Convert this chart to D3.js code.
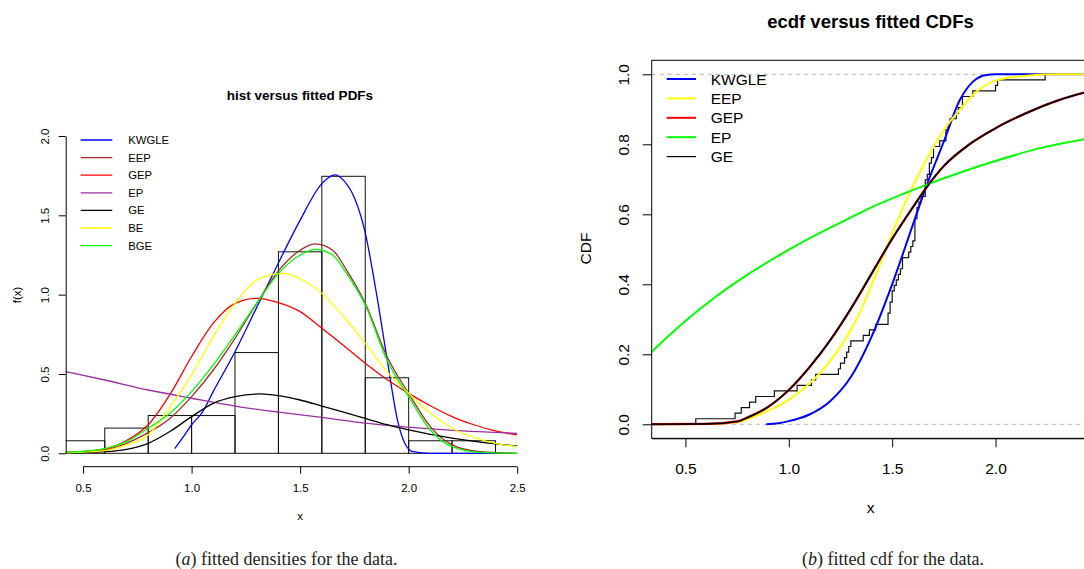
<!DOCTYPE html>
<html>
<head>
<meta charset="utf-8">
<script src="https://cdn.jsdelivr.net/npm/d3@7"></script>
<style>
body { margin: 0; background: #fff; }
svg text { font-family: "Liberation Sans", Arial, Helvetica, sans-serif; fill: #000; }
.caption { font-family: "Liberation Serif", "Times New Roman", serif; }
</style>
</head>
<body>
<svg id="chart" width="1084" height="569"></svg>
<script>

// ---------- data ----------

// histogram: bin edges and densities
var binEdges = [0.4, 0.6, 0.8, 1.0, 1.2, 1.4, 1.6, 1.8, 2.0, 2.2, 2.4];
var histDensity = [0.079, 0.159, 0.238, 0.238, 0.635, 1.270, 1.746, 0.476, 0.079, 0.079];

// fitted densities, [x, f(x)]
var pdfKWGLE = [[0.923,0.03],[0.96,0.1],[1.0,0.18],[1.05,0.26],[1.1,0.39],[1.2,0.64],[1.3,0.92],[1.4,1.2],[1.5,1.47],[1.6,1.7],[1.66,1.755],[1.7,1.72],[1.75,1.61],[1.8,1.39],[1.85,1.02],[1.9,0.6],[1.95,0.2],[1.98,0.07],[2.02,0.01],[2.1,0],[2.5,0]];
var pdfEEP = [[0.42,0.005],[0.6,0.02],[0.7,0.063],[0.8,0.13],[0.9,0.22],[1.0,0.357],[1.1,0.525],[1.2,0.725],[1.3,0.945],[1.4,1.15],[1.5,1.28],[1.568,1.32],[1.65,1.28],[1.714,1.155],[1.8,0.945],[1.9,0.61],[2.0,0.378],[2.1,0.168],[2.2,0.053],[2.33,0.01],[2.5,0]];
var pdfGEP = [[0.42,0.006],[0.6,0.027],[0.7,0.08],[0.8,0.18],[0.9,0.37],[1.0,0.61],[1.1,0.82],[1.2,0.945],[1.3,0.977],[1.4,0.95],[1.5,0.893],[1.6,0.788],[1.7,0.68],[1.8,0.567],[1.9,0.465],[2.0,0.378],[2.1,0.3],[2.2,0.231],[2.3,0.18],[2.4,0.141],[2.5,0.116]];
var pdfEP = [[0.42,0.515],[0.6,0.462],[0.8,0.399],[1.0,0.347],[1.2,0.298],[1.4,0.26],[1.6,0.227],[1.8,0.19],[2.0,0.165],[2.2,0.145],[2.4,0.132],[2.5,0.125]];
var pdfGE = [[0.42,0.002],[0.6,0.01],[0.7,0.025],[0.8,0.063],[0.9,0.137],[1.0,0.231],[1.1,0.315],[1.2,0.357],[1.315,0.374],[1.4,0.363],[1.5,0.336],[1.6,0.298],[1.7,0.26],[1.8,0.22],[1.9,0.18],[2.0,0.147],[2.2,0.095],[2.4,0.059],[2.5,0.046]];
var pdfBE = [[0.42,0.003],[0.6,0.017],[0.7,0.053],[0.8,0.115],[0.9,0.29],[1.0,0.494],[1.1,0.735],[1.2,0.945],[1.3,1.092],[1.42,1.134],[1.5,1.1],[1.6,1.008],[1.714,0.84],[1.8,0.693],[1.9,0.515],[2.0,0.378],[2.1,0.252],[2.2,0.158],[2.4,0.063],[2.5,0.042]];
var pdfBGE = [[0.42,0.006],[0.6,0.03],[0.7,0.074],[0.8,0.158],[0.9,0.252],[1.0,0.389],[1.1,0.557],[1.2,0.746],[1.3,0.945],[1.4,1.134],[1.5,1.25],[1.57,1.286],[1.65,1.25],[1.714,1.134],[1.8,0.935],[1.9,0.588],[2.0,0.357],[2.1,0.147],[2.2,0.042],[2.33,0.006],[2.5,0]];

// observed sample (ecdf jumps)
var sample = [0.55,0.74,0.77,0.81,0.84,0.93,1.04,1.11,1.13,1.24,1.25,1.27,1.28,1.29,1.30,1.36,1.39,
  1.42,1.48,1.48,1.49,1.49,1.50,1.50,1.51,1.52,1.53,1.54,1.55,1.55,1.58,1.59,1.60,
  1.61,1.61,1.61,1.61,1.62,1.62,1.63,1.64,1.66,1.66,1.66,1.67,1.68,1.68,1.69,1.70,1.70,1.73,1.76,1.76,1.77,1.78,
  1.81,1.82,1.84,1.84,1.89,2.00,2.01,2.24];

// fitted CDFs, [x, F(x)]
var cdfKWGLE = [[0.891,0],[0.95,0.003],[1.0,0.009],[1.1,0.028],[1.2,0.066],[1.3,0.135],[1.4,0.25],[1.5,0.40],[1.6,0.57],[1.665,0.68],[1.75,0.808],[1.826,0.925],[1.891,0.979],[1.955,0.998],[2.0,1.0],[2.6,1.0]];
var cdfEEP = [[0.3,0],[0.6,0.001],[0.75,0.006],[0.81,0.017],[0.89,0.036],[1.0,0.07],[1.084,0.108],[1.164,0.155],[1.25,0.222],[1.326,0.298],[1.423,0.431],[1.5,0.546],[1.584,0.66],[1.665,0.755],[1.75,0.841],[1.826,0.898],[1.907,0.95],[2.0,0.982],[2.148,0.996],[2.3,1.0],[2.6,1.0]];
var cdfGEP = [[0.3,0],[0.6,0.001],[0.75,0.008],[0.81,0.022],[0.89,0.046],[1.0,0.098],[1.1,0.163],[1.2,0.24],[1.3,0.33],[1.4,0.43],[1.5,0.53],[1.6,0.62],[1.665,0.676],[1.75,0.738],[1.874,0.8],[2.0,0.846],[2.148,0.889],[2.31,0.927],[2.45,0.951]];
var cdfEP = [[0.334,0.206],[0.487,0.289],[0.648,0.365],[0.81,0.431],[0.971,0.489],[1.132,0.541],[1.294,0.589],[1.39,0.617],[1.665,0.684],[1.987,0.75],[2.2,0.787],[2.45,0.817]];
var cdfGE = [[0.3,0],[0.6,0.001],[0.75,0.008],[0.81,0.022],[0.89,0.046],[1.0,0.098],[1.1,0.163],[1.2,0.24],[1.3,0.33],[1.4,0.43],[1.5,0.53],[1.6,0.62],[1.665,0.676],[1.75,0.738],[1.874,0.8],[2.0,0.846],[2.148,0.889],[2.31,0.927],[2.45,0.951]];

var xTicksL = [0.5, 1.0, 1.5, 2.0, 2.5];
var yTicksL = [0, 0.5, 1.0, 1.5, 2.0];
var xTicksR = [0.5, 1.0, 1.5, 2.0];
var yTicksR = [0, 0.2, 0.4, 0.6, 0.8, 1.0];

var legendL = ["KWGLE", "EEP", "GEP", "EP", "GE", "BE", "BGE"];
var legendR = ["KWGLE", "EEP", "GEP", "EP", "GE"];

// ---------- drawing ----------

var svg = d3.select("#chart");
var fmt = d3.format(".1f");

var xL = d3.scaleLinear().domain([0.42, 2.5]).range([65.7, 517.2]),
	yL = d3.scaleLinear().domain([0, 2]).range([453.3, 136]);

var xR = d3.scaleLinear().domain([0.3368, 2.5832]).range([651.7, 1116.1]),
	yR = d3.scaleLinear().domain([-0.04, 1.04]).range([438.3, 60.3]);

var defs = svg.append("defs");
defs.append("clipPath").attr("id", "clipL")
	.append("rect").attr("x", 65.7).attr("y", 100).attr("width", 451.5).attr("height", 354);
defs.append("clipPath").attr("id", "clipR")
	.append("rect").attr("x", 651.7).attr("y", 60.3).attr("width", 464.4).attr("height", 378);

var smooth = d3.curveMonotoneX;

// ----- left panel: hist versus fitted PDFs -----

var left = svg.append("g");

left.append("text")
	.attr("x", 300).attr("y", 99.5)
	.attr("text-anchor", "middle")
	.style("font-size", "13.5px").style("font-weight", "bold")
	.text("hist versus fitted PDFs");

var plotL = left.append("g").attr("clip-path", "url(#clipL)");

plotL.selectAll("rect.bar")
	.data(histDensity)
	.enter()
	.append("rect")
		.attr("class", "bar")
		.attr("x", function(d, i) { return xL(binEdges[i]); })
		.attr("y", function(d) { return yL(d); })
		.attr("width", function(d, i) { return xL(binEdges[i + 1]) - xL(binEdges[i]); })
		.attr("height", function(d) { return yL(0) - yL(d); })
		.attr("fill", "none")
		.attr("stroke", "#111")
		.attr("stroke-width", 1);

var lineL = d3.line()
	.x(function(d) { return xL(d[0]); })
	.y(function(d) { return yL(d[1]); })
	.curve(smooth);

var seriesL = [
	{ name: "KWGLE", data: pdfKWGLE, color: "#0000ff" },
	{ name: "EEP", data: pdfEEP, color: "#a52a2a" },
	{ name: "GEP", data: pdfGEP, color: "#ff0000" },
	{ name: "EP", data: pdfEP, color: "#9b2fa0" },
	{ name: "GE", data: pdfGE, color: "#000000" },
	{ name: "BE", data: pdfBE, color: "#ffff00" },
	{ name: "BGE", data: pdfBGE, color: "#00ff00" }
];

// draw order as in the picture: KWGLE first, BGE last
plotL.selectAll("path.pdf")
	.data(seriesL)
	.enter()
	.append("path")
		.attr("class", "pdf")
		.attr("d", function(d) { return lineL(d.data); })
		.attr("fill", "none")
		.attr("stroke", function(d) { return d.color; })
		.attr("stroke-width", 1.3);

// y axis
var yAxisL = left.append("g")
	.attr("transform", "translate(65.7,0)")
	.call(d3.axisLeft(yL).tickValues(yTicksL).tickFormat(fmt).tickSize(7).tickSizeOuter(0));
yAxisL.selectAll(".tick text")
	.attr("x", 0).attr("dy", null)
	.attr("transform", "translate(-21,0) rotate(-90)")
	.attr("text-anchor", "middle")
	.attr("dominant-baseline", "central")
	.style("font-size", "11.5px");

left.append("text")
	.attr("transform", "translate(17,295) rotate(-90)")
	.attr("text-anchor", "middle")
	.attr("dominant-baseline", "central")
	.style("font-size", "11.5px")
	.text("f(x)");

// x axis, offset below the bars
var xAxisL = left.append("g")
	.attr("transform", "translate(0,466.7)")
	.call(d3.axisBottom(xL).tickValues(xTicksL).tickFormat(fmt).tickSize(7).tickSizeOuter(0));
xAxisL.select(".domain").attr("d", "M" + xL(xTicksL[0]) + ",0H" + xL(xTicksL[xTicksL.length - 1]));
xAxisL.selectAll(".tick text")
	.attr("y", 25.5).attr("dy", null)
	.style("font-size", "11.5px");

left.append("text")
	.attr("x", 300).attr("y", 520)
	.attr("text-anchor", "middle")
	.style("font-size", "11.5px")
	.text("x");

// legend
var legL = left.selectAll("g.legL")
	.data(seriesL)
	.enter()
	.append("g")
		.attr("class", "legL")
		.attr("transform", function(d, i) { return "translate(0," + (140 + i * 17.6) + ")"; });
legL.append("line")
	.attr("x1", 80.7).attr("x2", 112.3)
	.attr("stroke", function(d) { return d.color; })
	.attr("stroke-width", 1.3);
legL.append("text")
	.attr("x", 128.3)
	.attr("dominant-baseline", "central")
	.style("font-size", "11.3px")
	.text(function(d, i) { return legendL[i]; });

// ----- right panel: ecdf versus fitted CDFs -----

var right = svg.append("g");

right.append("text")
	.attr("x", 870.5).attr("y", 27.5)
	.attr("text-anchor", "middle")
	.style("font-size", "18.5px").style("font-weight", "bold")
	.text("ecdf versus fitted CDFs");

var plotR = right.append("g").attr("clip-path", "url(#clipR)");

// dashed reference lines at 0 and 1
plotR.selectAll("line.ref")
	.data([0, 1])
	.enter()
	.append("line")
		.attr("class", "ref")
		.attr("x1", xR.range()[0]).attr("x2", xR.range()[1])
		.attr("y1", function(d) { return yR(d); })
		.attr("y2", function(d) { return yR(d); })
		.attr("stroke", "#b3b3b3")
		.attr("stroke-dasharray", "4,4");

// ecdf steps
var sorted = sample.slice().sort(d3.ascending),
	uniq = Array.from(new Set(sorted)),
	steps = [[xR.domain()[0], 0]];
uniq.forEach(function(v) {
	steps.push([v, d3.bisectRight(sorted, v) / sorted.length]);
});
steps.push([xR.domain()[1], 1]);

plotR.append("path")
	.attr("d", d3.line()
		.x(function(d) { return xR(d[0]); })
		.y(function(d) { return yR(d[1]); })
		.curve(d3.curveStepAfter)(steps))
	.attr("fill", "none")
	.attr("stroke", "#111")
	.attr("stroke-width", 1.2);

var lineR = d3.line()
	.x(function(d) { return xR(d[0]); })
	.y(function(d) { return yR(d[1]); })
	.curve(smooth);

var seriesR = [
	{ name: "KWGLE", data: cdfKWGLE, color: "#0000ff", w: 2 },
	{ name: "EEP", data: cdfEEP, color: "#ffff00", w: 2 },
	{ name: "GEP", data: cdfGEP, color: "#ff0000", w: 2.3 },
	{ name: "EP", data: cdfEP, color: "#00ff00", w: 2 },
	{ name: "GE", data: cdfGE, color: "#000000", w: 1.7 }
];

plotR.selectAll("path.cdf")
	.data(seriesR)
	.enter()
	.append("path")
		.attr("class", "cdf")
		.attr("d", function(d) { return lineR(d.data); })
		.attr("fill", "none")
		.attr("stroke", function(d) { return d.color; })
		.attr("stroke-width", function(d) { return d.w; });

// box
right.append("rect")
	.attr("x", xR.range()[0]).attr("y", yR.range()[1])
	.attr("width", xR.range()[1] - xR.range()[0])
	.attr("height", yR.range()[0] - yR.range()[1])
	.attr("fill", "none")
	.attr("stroke", "#000");

var xAxisR = right.append("g")
	.attr("transform", "translate(0," + yR.range()[0] + ")")
	.call(d3.axisBottom(xR).tickValues(xTicksR).tickFormat(fmt).tickSize(9).tickSizeOuter(0));
xAxisR.selectAll(".tick text")
	.attr("y", 35.4).attr("dy", null)
	.style("font-size", "15.5px");

var yAxisR = right.append("g")
	.attr("transform", "translate(" + xR.range()[0] + ",0)")
	.call(d3.axisLeft(yR).tickValues(yTicksR).tickFormat(fmt).tickSize(9).tickSizeOuter(0));
yAxisR.select(".domain").remove();
yAxisR.selectAll(".tick text")
	.attr("x", 0).attr("dy", null)
	.attr("transform", "translate(-28.2,0) rotate(-90)")
	.attr("text-anchor", "middle")
	.attr("dominant-baseline", "central")
	.style("font-size", "15.5px");

right.append("text")
	.attr("transform", "translate(585,248.5) rotate(-90)")
	.attr("text-anchor", "middle")
	.attr("dominant-baseline", "central")
	.style("font-size", "15.5px")
	.text("CDF");

right.append("text")
	.attr("x", 870.5).attr("y", 512.5)
	.attr("text-anchor", "middle")
	.style("font-size", "15.5px")
	.text("x");

var legR = right.selectAll("g.legR")
	.data(seriesR)
	.enter()
	.append("g")
		.attr("class", "legR")
		.attr("transform", function(d, i) { return "translate(0," + (79 + i * 19.4) + ")"; });
legR.append("line")
	.attr("x1", 666.7).attr("x2", 696)
	.attr("stroke", function(d) { return d.color; })
	.attr("stroke-width", function(d) { return d.name == "GE" ? 1.2 : 2; });
legR.append("text")
	.attr("x", 710.7)
	.attr("dominant-baseline", "central")
	.style("font-size", "15.5px")
	.text(function(d, i) { return legendR[i]; });

// ----- captions -----
var captions = [
	{ x: 286.5, label: "a", text: " fitted densities for the data." },
	{ x: 893, label: "b", text: " fitted cdf for the data." }
];
captions.forEach(function(c) {
	var t = svg.append("text")
		.attr("class", "caption")
		.attr("x", c.x).attr("y", 565)
		.attr("text-anchor", "middle")
		.style("font-size", "18px")
		.style("fill", "#222");
	t.append("tspan").text("(");
	t.append("tspan").style("font-style", "italic").text(c.label);
	t.append("tspan").text(")" + c.text);
});

</script>
</body>
</html>
